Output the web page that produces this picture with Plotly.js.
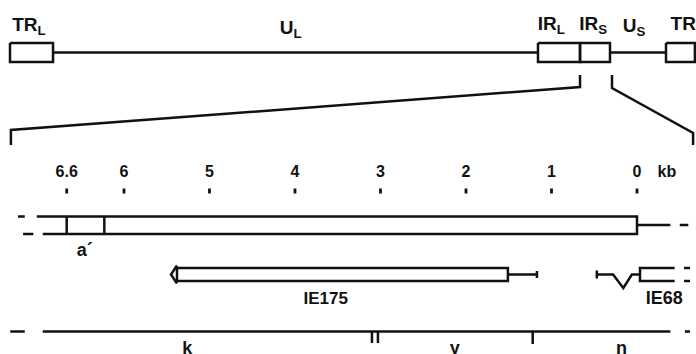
<!DOCTYPE html>
<html><head><meta charset="utf-8">
<script src="https://cdn.plot.ly/plotly-3.0.1.min.js"></script>
<style>html,body{margin:0;padding:0;background:#fff;overflow:hidden}#chart{width:696px;height:354px}</style>
</head><body><div id="chart"></div>
<script>
// ---------- Genome overview (HSV-1 genome, kb) ----------
const genomeSegLabels   = ['TR<sub>L</sub>','U<sub>L</sub>','IR<sub>L</sub>','IR<sub>S</sub>','U<sub>S</sub>','TR<sub>S</sub>'];
const genomeSegStartKb  = [0, 9.56, 117.33, 126.67, 133.33, 145.78];
const genomeSegEndKb    = [9.56, 117.33, 126.67, 133.33, 145.78, 152.2];
const genomeSegIsRepeat = [true, false, true, true, false, true];
const genomeLabelKb     = [4.2, 62.4, 120.3, 129.6, 138.7, 150.6];
const zoomWindowKb      = [126.67, 133.78];
const zoomBracketFootKb = [0.2, 151.8];

// ---------- Expanded map (kb, 0 = IR_S / U_S junction) ----------
const scaleTickKb     = [6.67, 6, 5, 4, 3, 2, 1, 0];
const scaleTickLabels = ['6.6', '6', '5', '4', '3', '2', '1', '0'];
const scaleUnitKb     = -0.35;
const scaleUnitLabel  = 'kb';

const repeatStartKb   = [7.02, 6.95];   // top edge, bottom edge (open left end)
const repeatEndKb     = 0;
const flankEndKb      = -0.39;
const aPrimeBoundsKb  = [6.67, 6.23];
const aPrimeLabelKb   = 6.46;
const aPrimeLabel     = 'a\u00b4';

const ie175TipKb      = 5.45;
const ie175BodyKb     = [5.38, 1.51];
const ie175LeaderKb   = 1.17;
const ie175LabelKb    = 3.64;
const ie175Label      = 'IE175';

const ie68StartKb     = 0.47;
const ie68IntronKb    = [0.28, 0.16, 0.06];
const ie68ExonKb      = [-0.035, -0.44];
const ie68LabelKb     = -0.32;
const ie68Label       = 'IE68';

const fragLineKb      = [6.95, -0.39];
const fragBoundaryKb  = [3.065, 1.22];
const fragBoundaryDbl = [true, false];
const fragLabels      = ['k', 'y', 'n'];
const fragLabelKb     = [5.26, 2.13, 0.18];

// broken-end dash marks
const leftDashTopKb   = [7.24, 7.16];
const leftDashBotKb   = [7.18, 7.06];
const leftDashFragKb  = [7.33, 7.16];
const rightDashKb     = [-0.50, -0.60];
const rightDashIe68Kb = [-0.55, -0.62];
const rightDashFragKb = [-0.56, -0.62];

// ---------- layout rows (pixel y) & style ----------
const W = 696, H = 354;
const ROW = {
  gLabelY: [26, 29, 25.5, 25.5, 27, 25],
  gBoxTop: 43, gBoxBot: 62, gLine: 52.5,
  brTop: 75, brKneeL: 87, brKneeR: 88, brFootL: 130, brFootR: 133, brEnd: 145,
  scaleLabel: 172.5, tickTop: 188.5, tickBot: 193.5,
  boxTop: 216.5, boxBot: 234, boxMid: 225, aLabel: 251,
  tTop: 268, tBot: 281, tMid: 274.5, intronLow: 288, tLabel: 299.5,
  frag: 331.5, fragMark: 343, fragLabel: 349
};
const INK = '#111';
const FONT = 'Liberation Sans, Arial, sans-serif';
const LW = 2.5;

const traces = [];
function addPath(axis, paths, width) {
  const x = [], y = [];
  paths.forEach(([px, py], i) => {
    if (i) { x.push(null); y.push(null); }
    x.push(...px); y.push(...py);
  });
  traces.push({type:'scatter', mode:'lines', xaxis:axis, yaxis:'y', x, y,
    line:{color:INK, width:width || LW}, hoverinfo:'skip', showlegend:false, connectgaps:false});
}
function addText(axis, xs, ys, texts, size) {
  traces.push({type:'scatter', mode:'text', xaxis:axis, yaxis:'y', x:xs, y:ys, text:texts,
    textposition:'middle center', textfont:{family:FONT, size:size, color:INK, weight:'bold'},
    hoverinfo:'skip', showlegend:false, cliponaxis:false});
}

// ---- overview ----
const ov = [];
genomeSegStartKb.forEach((s, i) => {
  const e = genomeSegEndKb[i];
  if (genomeSegIsRepeat[i]) ov.push([[s, e, e, s, s], [ROW.gBoxTop, ROW.gBoxTop, ROW.gBoxBot, ROW.gBoxBot, ROW.gBoxTop]]);
  else ov.push([[s, e], [ROW.gLine, ROW.gLine]]);
});
ov.push([[zoomWindowKb[0], zoomWindowKb[0], zoomBracketFootKb[0], zoomBracketFootKb[0]], [ROW.brTop, ROW.brKneeL, ROW.brFootL, ROW.brEnd]]);
ov.push([[zoomWindowKb[1], zoomWindowKb[1], zoomBracketFootKb[1], zoomBracketFootKb[1]], [ROW.brTop, ROW.brKneeR, ROW.brFootR, ROW.brEnd]]);
addPath('x2', ov);
addText('x2', genomeLabelKb, ROW.gLabelY, genomeSegLabels, 19);

// ---- scale ----
addPath('x', scaleTickKb.map(t => [[t, t], [ROW.tickTop, ROW.tickBot]]), 2.8);
addText('x', scaleTickKb.concat([scaleUnitKb]), scaleTickKb.map(() => ROW.scaleLabel).concat([ROW.scaleLabel]),
  scaleTickLabels.concat([scaleUnitLabel]), 16);

// ---- repeat region box ----
const rp = [];
rp.push([[repeatStartKb[0], repeatEndKb, repeatEndKb, repeatStartKb[1]], [ROW.boxTop, ROW.boxTop, ROW.boxBot, ROW.boxBot]]);
rp.push([[repeatEndKb, flankEndKb], [ROW.boxMid, ROW.boxMid]]);
aPrimeBoundsKb.forEach(a => rp.push([[a, a], [ROW.boxTop, ROW.boxBot]]));
rp.push([leftDashTopKb, [ROW.boxTop, ROW.boxTop]]);
rp.push([leftDashBotKb, [ROW.boxBot, ROW.boxBot]]);
rp.push([rightDashKb, [ROW.boxMid, ROW.boxMid]]);
addPath('x', rp);
addText('x', [aPrimeLabelKb], [ROW.aLabel], [aPrimeLabel], 18);

// ---- IE175 ----
const t1 = [];
t1.push([[ie175BodyKb[0], ie175BodyKb[1], ie175BodyKb[1], ie175BodyKb[0], ie175BodyKb[0]], [ROW.tTop, ROW.tTop, ROW.tBot, ROW.tBot, ROW.tTop]]);
t1.push([[ie175BodyKb[0], ie175TipKb, ie175BodyKb[0]], [ROW.tTop - 2.5, ROW.tMid, ROW.tBot + 2.5]]);
t1.push([[ie175BodyKb[1], ie175LeaderKb], [ROW.tMid, ROW.tMid]]);
t1.push([[ie175LeaderKb, ie175LeaderKb], [ROW.tMid - 3.5, ROW.tMid + 3.5]]);
addPath('x', t1);
addText('x', [ie175LabelKb], [ROW.tLabel], [ie175Label], 17);

// ---- IE68 ----
const t2 = [];
t2.push([[ie68StartKb, ie68StartKb], [ROW.tMid - 4, ROW.tMid + 4]]);
t2.push([[ie68StartKb, ie68IntronKb[0], ie68IntronKb[1], ie68IntronKb[2], ie68ExonKb[0]], [ROW.tMid, ROW.tMid, ROW.intronLow, ROW.tMid, ROW.tMid]]);
t2.push([[ie68ExonKb[1], ie68ExonKb[0], ie68ExonKb[0], ie68ExonKb[1]], [ROW.tTop, ROW.tTop, ROW.tBot, ROW.tBot]]);
t2.push([rightDashIe68Kb, [ROW.tTop, ROW.tTop]]);
t2.push([rightDashIe68Kb, [ROW.tBot, ROW.tBot]]);
addPath('x', t2);
addText('x', [ie68LabelKb], [ROW.tLabel], [ie68Label], 18);

// ---- restriction fragments ----
const fr = [];
fr.push([fragLineKb, [ROW.frag, ROW.frag]]);
fr.push([leftDashFragKb, [ROW.frag, ROW.frag]]);
fr.push([rightDashFragKb, [ROW.frag, ROW.frag]]);
fragBoundaryKb.forEach((b, i) => {
  if (fragBoundaryDbl[i]) {
    fr.push([[b + 0.035, b + 0.035], [ROW.frag, ROW.fragMark]]);
    fr.push([[b - 0.035, b - 0.035], [ROW.frag, ROW.fragMark]]);
  } else fr.push([[b, b], [ROW.frag, ROW.fragMark + 1]]);
});
addPath('x', fr);
addText('x', fragLabelKb, fragLabels.map(() => ROW.fragLabel), fragLabels, 18);

const layout = {
  width: W, height: H, margin: {l:0, r:0, t:0, b:0, pad:0},
  paper_bgcolor: '#fff', plot_bgcolor: '#fff', showlegend: false,
  xaxis:  {range: [7.450, -0.690], visible: false, fixedrange: true},
  xaxis2: {range: [-2.222, 152.444], overlaying: 'x', visible: false, fixedrange: true},
  yaxis:  {range: [H, 0], visible: false, fixedrange: true}
};
Plotly.newPlot('chart', traces, layout, {staticPlot: true, displayModeBar: false});
</script></body></html>
